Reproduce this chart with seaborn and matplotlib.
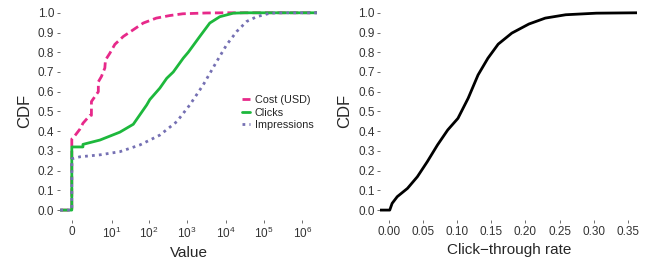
import numpy as np
import pandas as pd
import matplotlib
matplotlib.use("Agg")
import matplotlib.pyplot as plt
import seaborn as sns

# CDF points (value, cumulative fraction)
costX = [-0.5, 0, 0, 0.07, 0.62, 0.95, 1.95, 2.24, 2.24, 2.98, 3.9, 3.9, 4.9, 6.24, 6.5, 8.77,
	12.2, 20.9, 38.8, 71.4, 157, 354, 775, 3160, 10700, 2.4e6]
costY = [0.0, 0.0, 0.36, 0.364, 0.41, 0.44, 0.48, 0.48, 0.55, 0.575, 0.60, 0.65, 0.677, 0.72, 0.76, 0.795,
	0.84, 0.88, 0.914, 0.948, 0.973, 0.986, 0.995, 0.999, 1.0, 1.0]

clicksX = [-0.5, 0, 0, 0.95, 0.95, 4.4, 16.8, 38.8, 88, 106, 194, 294, 436, 793, 1071, 2137,
	3889, 7078, 15848, 31600, 2.4e6]
clicksY = [0.0, 0.0, 0.32, 0.32, 0.333, 0.355, 0.395, 0.435, 0.533, 0.56, 0.618, 0.668, 0.70, 0.77, 0.80, 0.88,
	0.948, 0.98, 0.998, 1.0, 1.0]

imprX = [-0.5, 0, 0, 0.62, 4.4, 16.8, 58, 194, 536, 1174, 2629, 5887, 10700, 19500, 35480, 64560,
	144500, 300000, 2.4e6]
imprY = [0.0, 0.0, 0.26, 0.27, 0.28, 0.296, 0.33, 0.38, 0.448, 0.533, 0.635, 0.753, 0.838, 0.905, 0.956, 0.98,
	0.998, 1.0, 1.0]

ctrX = [-0.013, 0.001, 0.0045, 0.012, 0.027, 0.0415, 0.056, 0.071, 0.086, 0.101, 0.116, 0.1305,
	0.145, 0.160, 0.180, 0.205, 0.229, 0.259, 0.304, 0.365]
ctrY = [0.0, 0.0, 0.034, 0.068, 0.11, 0.169, 0.245, 0.33, 0.406, 0.465, 0.567, 0.685,
	0.77, 0.841, 0.897, 0.943, 0.973, 0.99, 0.998, 1.0]

seriesNames = ["Cost (USD)", "Clicks", "Impressions"]
colors = ["#E7298A", "#1DB83C", "#7570B3"]

sns.set_style("white")
plt.rcParams['font.family'] = ['Liberation Sans', 'DejaVu Sans']
plt.rcParams['mathtext.fontset'] = 'custom'
plt.rcParams['mathtext.rm'] = 'Liberation Sans'
plt.rcParams['mathtext.it'] = 'Liberation Sans:italic'
plt.rcParams['mathtext.bf'] = 'Liberation Sans:bold'

df = pd.concat([
	pd.DataFrame({'value': costX, 'cdf': costY, 'metric': seriesNames[0]}),
	pd.DataFrame({'value': clicksX, 'cdf': clicksY, 'metric': seriesNames[1]}),
	pd.DataFrame({'value': imprX, 'cdf': imprY, 'metric': seriesNames[2]}),
], ignore_index=True)
dfCtr = pd.DataFrame({'ctr': ctrX, 'cdf': ctrY})

fig = plt.figure(figsize=(6.51, 2.65), dpi=100)
ax = fig.add_axes([0.092, 0.17, 0.395, 0.819])
ax2 = fig.add_axes([0.584, 0.17, 0.395, 0.819])

# pseudo-log x axis: log10(x + 1)
ax.set_xscale('function', functions=(lambda v: np.log10(np.maximum(v + 1, 1e-9)), lambda v: 10**v - 1))

sns.lineplot(data=df, x='value', y='cdf', hue='metric', style='metric', hue_order=seriesNames,
	style_order=seriesNames, palette=colors, dashes=[(3, 1.5), "", (1, 1.5)],
	estimator=None, sort=False, linewidth=2, ax=ax)
sns.lineplot(data=dfCtr, x='ctr', y='cdf', color='black', estimator=None, sort=False, linewidth=2, ax=ax2)

xticks = [0, 10, 100, 1e3, 1e4, 1e5, 1e6]
ax.set_xticks(xticks)
ax.set_xticklabels(["0"] + [f"$\\mathrm{{10^{{{k}}}}}$" for k in range(1, 7)])
ax.set_xlim(-0.51, 2.4e6)
ax2.set_xticks(np.arange(0, 0.36, 0.05))
ax2.set_xticklabels([f"{t:.2f}" for t in np.arange(0, 0.36, 0.05)])
ax2.set_xlim(-0.013, 0.364)

for a in (ax, ax2):
	a.set_ylim(-0.05, 1.05)
	a.set_yticks(np.arange(0, 1.01, 0.1))
	a.set_yticklabels([f"{t:.1f}" for t in np.arange(0, 1.01, 0.1)])
	a.set_ylabel("CDF", fontsize=12)
	a.tick_params(axis='both', labelsize=8.5, length=2, width=0.6, color='#555555', labelcolor='#333333',
		pad=2, direction='out')
	a.tick_params(axis='both', bottom=True, left=True)
	for s in a.spines.values():
		s.set_visible(False)
	a.grid(False)

ax.set_xlabel("Value", fontsize=11)
ax2.set_xlabel("Click\u2212through rate", fontsize=11)

leg = ax.legend(loc='upper left', bbox_to_anchor=(0.69, 0.595), frameon=False, fontsize=7.8,
	handlelength=0.8, handletextpad=0.4, labelspacing=0.22, borderaxespad=0)

fig.savefig("out.png", dpi=100)
